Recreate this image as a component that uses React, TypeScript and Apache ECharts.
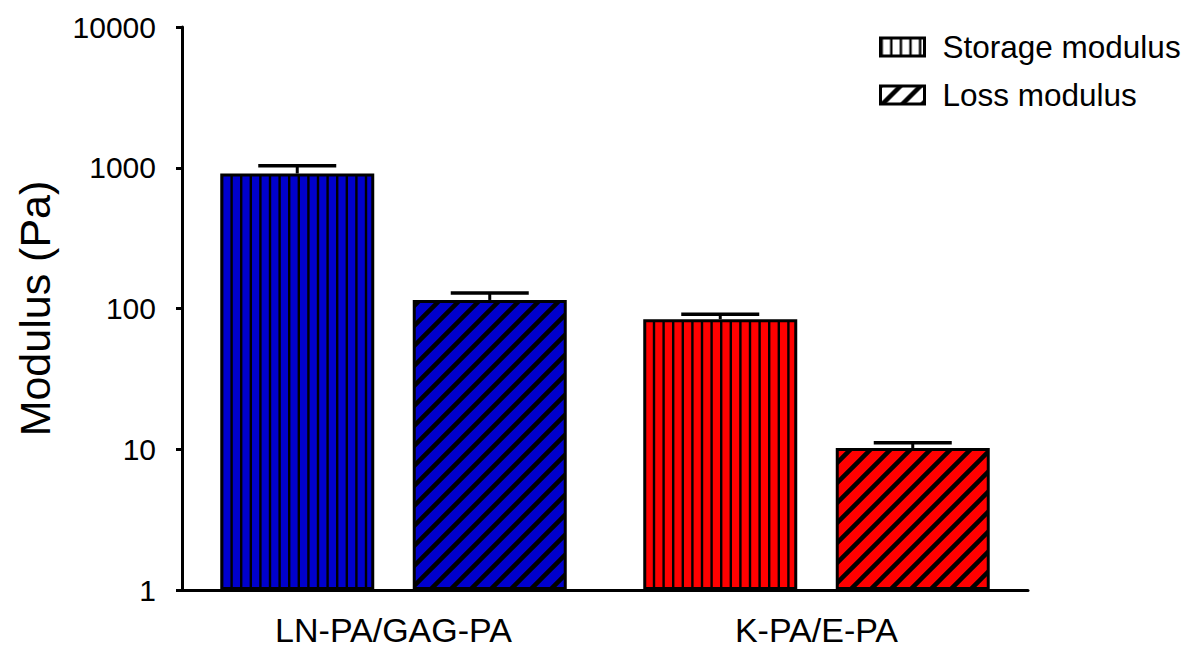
import React, { useEffect, useRef } from 'react';
import * as echarts from 'echarts';

const categories = ['LN-PA/GAG-PA', 'K-PA/E-PA'];
const seriesNames = ['Storage modulus', 'Loss modulus'];
const storageValues = [910, 84];
const storageUpper = [1035, 91];
const lossValues = [115, 10.2];
const lossUpper = [129, 11.1];
const groupColors = ['#0000cc', '#ff0000'];
const yMin = 1;
const yMax = 10000;

const FONT = 'Liberation Sans, Arial, sans-serif';

function verticalPattern(bg: string) {
  const c = document.createElement('canvas');
  c.width = 48;
  c.height = 10;
  const ctx = c.getContext('2d')!;
  ctx.fillStyle = bg;
  ctx.fillRect(0, 0, 48, 10);
  ctx.fillStyle = '#000';
  for (let i = 0; i < 5; i++) ctx.fillRect(i * 9.6, 0, 2.4, 10);
  return { image: c, repeat: 'repeat', imageWidth: 48, imageHeight: 10 } as any;
}

function diagonalPattern(bg: string) {
  const s = 20;
  const c = document.createElement('canvas');
  c.width = s;
  c.height = s;
  const ctx = c.getContext('2d')!;
  ctx.fillStyle = bg;
  ctx.fillRect(0, 0, s, s);
  ctx.strokeStyle = '#000';
  ctx.lineWidth = 4.5;
  ctx.beginPath();
  ctx.moveTo(-5, 5);
  ctx.lineTo(5, -5);
  ctx.moveTo(0, s);
  ctx.lineTo(s, 0);
  ctx.moveTo(s - 5, s + 5);
  ctx.lineTo(s + 5, s - 5);
  ctx.stroke();
  return { image: c, repeat: 'repeat', imageWidth: s, imageHeight: s } as any;
}

export default function App() {
  const ref = useRef<HTMLDivElement>(null);

  useEffect(() => {
    if (!ref.current) return;
    const chart = echarts.init(ref.current, undefined, { renderer: 'svg' });

    const barWidth = 154;
    const barGapPx = 38.5;
    const offset = (barWidth + barGapPx) / 2;
    const capHalf = 39;

    const errRender = (dx: number) => (params: any, api: any) => {
      const idx = api.value(0);
      const base = api.coord([idx, api.value(1)]);
      const top = api.coord([idx, api.value(2)]);
      const x = base[0] + dx;
      return {
        type: 'group',
        children: [
          { type: 'line', shape: { x1: x, y1: base[1], x2: x, y2: top[1] }, style: { stroke: '#000', lineWidth: 3 } },
          { type: 'line', shape: { x1: x - capHalf, y1: top[1], x2: x + capHalf, y2: top[1] }, style: { stroke: '#000', lineWidth: 3.5 } },
        ],
      };
    };

    const option: any = {
      animation: false,
      backgroundColor: '#ffffff',
      textStyle: { fontFamily: FONT },
      grid: { left: 182, right: 157, top: 27, bottom: 59, containLabel: false },
      legend: {
        orient: 'vertical',
        left: 874,
        top: 26,
        itemWidth: 44,
        itemHeight: 18,
        itemGap: 16,
        icon: 'rect',
        textStyle: { fontSize: 31.5, color: '#000', fontFamily: FONT, padding: [0, 0, 0, 13] },
        data: [
          { name: seriesNames[0], itemStyle: { color: verticalPattern('#ffffff'), borderColor: '#000', borderWidth: 3 } },
          { name: seriesNames[1], itemStyle: { color: diagonalPattern('#ffffff'), borderColor: '#000', borderWidth: 3 } },
        ],
      },
      xAxis: {
        type: 'category',
        data: categories,
        axisLine: { lineStyle: { color: '#000', width: 3 } },
        axisTick: { show: false },
        axisLabel: { fontSize: 34, color: '#000', margin: 23, fontFamily: FONT },
      },
      yAxis: {
        type: 'log',
        logBase: 10,
        min: yMin,
        max: yMax,
        name: 'Modulus (Pa)',
        nameLocation: 'middle',
        nameGap: 126,
        nameTextStyle: { fontSize: 43, color: '#000', fontFamily: FONT },
        axisLine: { show: true, lineStyle: { color: '#000', width: 3 } },
        axisTick: { show: true, length: 6, lineStyle: { color: '#000', width: 3 } },
        axisLabel: {
          fontSize: 30,
          color: '#000',
          margin: 26,
          fontFamily: FONT,
          formatter: (v: number) => String(Math.round(v)),
        },
        splitLine: { show: false },
      },
      series: [
        {
          name: seriesNames[0],
          type: 'bar',
          barWidth,
          barGap: '25%',
          itemStyle: { borderColor: '#000', borderWidth: 3 },
          data: storageValues.map((v, i) => ({ value: v, itemStyle: { color: verticalPattern(groupColors[i]) } })),
        },
        {
          name: seriesNames[1],
          type: 'bar',
          barWidth,
          barGap: '25%',
          itemStyle: { borderColor: '#000', borderWidth: 3 },
          data: lossValues.map((v, i) => ({ value: v, itemStyle: { color: diagonalPattern(groupColors[i]) } })),
        },
        {
          name: 'storage-error',
          type: 'custom',
          z: 5,
          data: storageValues.map((v, i) => [i, v, storageUpper[i]]),
          encode: { x: 0, y: [1, 2] },
          renderItem: errRender(-offset),
        },
        {
          name: 'loss-error',
          type: 'custom',
          z: 5,
          data: lossValues.map((v, i) => [i, v, lossUpper[i]]),
          encode: { x: 0, y: [1, 2] },
          renderItem: errRender(offset),
        },
      ],
    };

    chart.setOption(option);
    return () => chart.dispose();
  }, []);

  return (
    <div
      ref={ref}
      style={{ position: 'fixed', left: 0, top: 0, width: 1185, height: 649, background: '#fff' }}
    />
  );
}
